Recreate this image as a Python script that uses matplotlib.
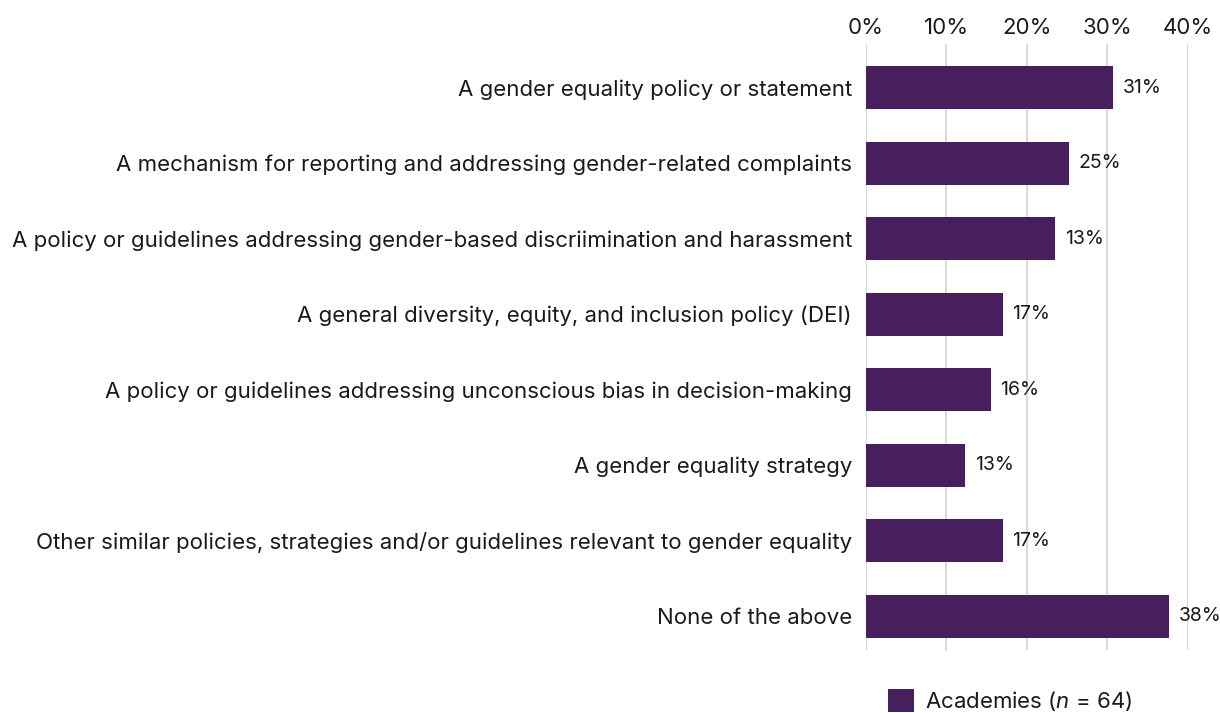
import matplotlib
matplotlib.use("Agg")
import matplotlib.pyplot as plt
from matplotlib.patches import Patch

plt.rcParams['font.family'] = ['Inter', 'DejaVu Sans']
plt.rcParams['mathtext.fontset'] = 'custom'
plt.rcParams['mathtext.rm'] = 'Inter'
plt.rcParams['mathtext.it'] = 'Inter:italic'

# data (bar lengths and printed labels differ in the source)
categories = [
    "A gender equality policy or statement",
    "A mechanism for reporting and addressing gender-related complaints",
    "A policy or guidelines addressing gender-based discriimination and harassment",
    "A general diversity, equity, and inclusion policy (DEI)",
    "A policy or guidelines addressing unconscious bias in decision-making",
    "A gender equality strategy",
    "Other similar policies, strategies and/or guidelines relevant to gender equality",
    "None of the above",
]
values = [30.7, 25.2, 23.5, 17.0, 15.5, 12.3, 17.0, 37.7]
value_labels = ["31%", "25%", "13%", "17%", "16%", "13%", "17%", "38%"]
x_ticks = [0, 10, 20, 30, 40]
series_name = "Academies ($n$ = 64)"

bar_color = "#461f5c"
text_color = "#1a1a1a"

fig = plt.figure(figsize=(12.2, 7.13), dpi=100)
ax = fig.add_axes([0.7098, 0.0884, 0.2637, 0.8499])

y = list(range(len(categories)))
ax.barh(y, values, height=0.57, color=bar_color, zorder=3)

for yi, v, lab in zip(y, values, value_labels):
    ax.annotate(lab, (v, yi), xytext=(7, 0), textcoords="offset points",
                va="center", ha="left", fontsize=14, color=text_color,
                annotation_clip=False)

ax.set_ylim(7.45, -0.58)
ax.set_xlim(0, 40)
ax.set_yticks(y)
ax.set_yticklabels(categories, fontsize=16, color=text_color)
ax.set_xticks(x_ticks)
ax.set_xticklabels([f"{t}%" for t in x_ticks], fontsize=16, color=text_color)
ax.xaxis.tick_top()
ax.tick_params(axis="both", length=0)
ax.tick_params(axis="y", pad=10)
ax.tick_params(axis="x", pad=4)
ax.grid(axis="x", color="#d9d9d9", linewidth=1.5, zorder=0)
for s in ax.spines.values():
    s.set_visible(False)

handle = Patch(facecolor=bar_color, edgecolor="none")
fig.legend([handle], [series_name], loc="center",
           bbox_to_anchor=(1010 / 1220, 1 - 701 / 713), frameon=False,
           fontsize=16, handlelength=1.2, handleheight=1.2, handletextpad=0.5,
           labelcolor=text_color)

fig.savefig("out.png", dpi=100)
